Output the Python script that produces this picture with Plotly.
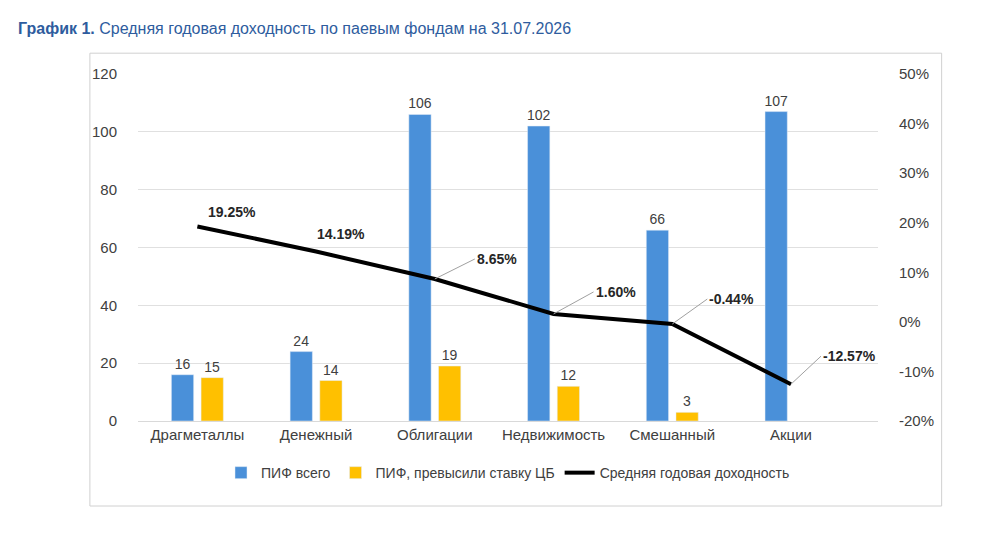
import plotly.graph_objects as go

categories = ["Драгметаллы", "Денежный", "Облигации", "Недвижимость", "Смешанный", "Акции"]
total = [16, 24, 106, 102, 66, 107]
above = [15, 14, 19, 12, 3, None]
avg_yield = [19.25, 14.19, 8.65, 1.60, -0.44, -12.57]
left_ticks = [0, 20, 40, 60, 80, 100, 120]
right_ticks = [-20, -10, 0, 10, 20, 30, 40, 50]

fnt = "Liberation Sans Narrow, Arial Narrow, Liberation Sans, Arial"
fig = go.Figure()
fig.add_bar(x=categories, y=total, name="ПИФ всего", marker_color="#4A90D9",
            text=total, textposition="outside", textfont=dict(size=14, color="#404040"),
            cliponaxis=False, constraintext="none")
fig.add_bar(x=categories, y=above, name="ПИФ, превысили ставку ЦБ", marker_color="#FFC000",
            text=[v if v is not None else "" for v in above], textposition="outside",
            textfont=dict(size=14, color="#404040"), cliponaxis=False, constraintext="none")
fig.add_scatter(x=categories, y=avg_yield, yaxis="y2", mode="lines",
                line=dict(color="black", width=4), name="Средняя годовая доходность")

offsets = [(35, -14, False), (25, -18, False), (40, -20, True), (40, -22, True), (35, -25, True), (30, -28, True)]
for c, v, (ax, ay, arrow) in zip(categories, avg_yield, offsets):
    fig.add_annotation(x=c, y=v, yref="y2", text=f"<b>{v:.2f}%</b>", showarrow=True,
                       arrowhead=0, arrowwidth=1, arrowcolor="#A0A0A0" if arrow else "rgba(0,0,0,0)",
                       ax=ax, ay=ay, xanchor="left" if arrow else "center",
                       font=dict(size=14, color="#262626"))

fig.add_annotation(xref="paper", yref="paper", x=-0.165, y=1.13, xanchor="left", yanchor="middle",
                   showarrow=False,
                   text="<b>График 1.</b> Средняя годовая доходность по паевым фондам на 31.07.2026",
                   font=dict(size=16, color="#2E5C9E", family=fnt))
fig.add_shape(type="rect", xref="paper", yref="paper", x0=-0.065, x1=1.086, y0=-0.245, y1=1.06,
              line=dict(color="#D0D0D0", width=1), layer="below")

fig.update_layout(
    width=983, height=546, plot_bgcolor="white", paper_bgcolor="white",
    margin=dict(l=130, r=113, t=66, b=133),
    font=dict(family=fnt, size=15, color="#404040"),
    barmode="group", bargap=0.5, bargroupgap=0.25,
    xaxis=dict(showgrid=False, showline=True, linecolor="#D9D9D9", ticks=""),
    yaxis=dict(range=[0, 120], tickvals=left_ticks, gridcolor="#E0E0E0", zeroline=False, ticklabelstandoff=20),
    yaxis2=dict(range=[-20, 50], tickvals=right_ticks, ticktext=[f"{t}%" for t in right_ticks],
                overlaying="y", side="right", showgrid=False, zeroline=False, ticklabelstandoff=20),
    legend=dict(orientation="h", x=0.5, xanchor="center", y=-0.15, yanchor="middle",
                font=dict(size=14), traceorder="normal"),
    showlegend=True,
)
fig.write_html("out.html")
